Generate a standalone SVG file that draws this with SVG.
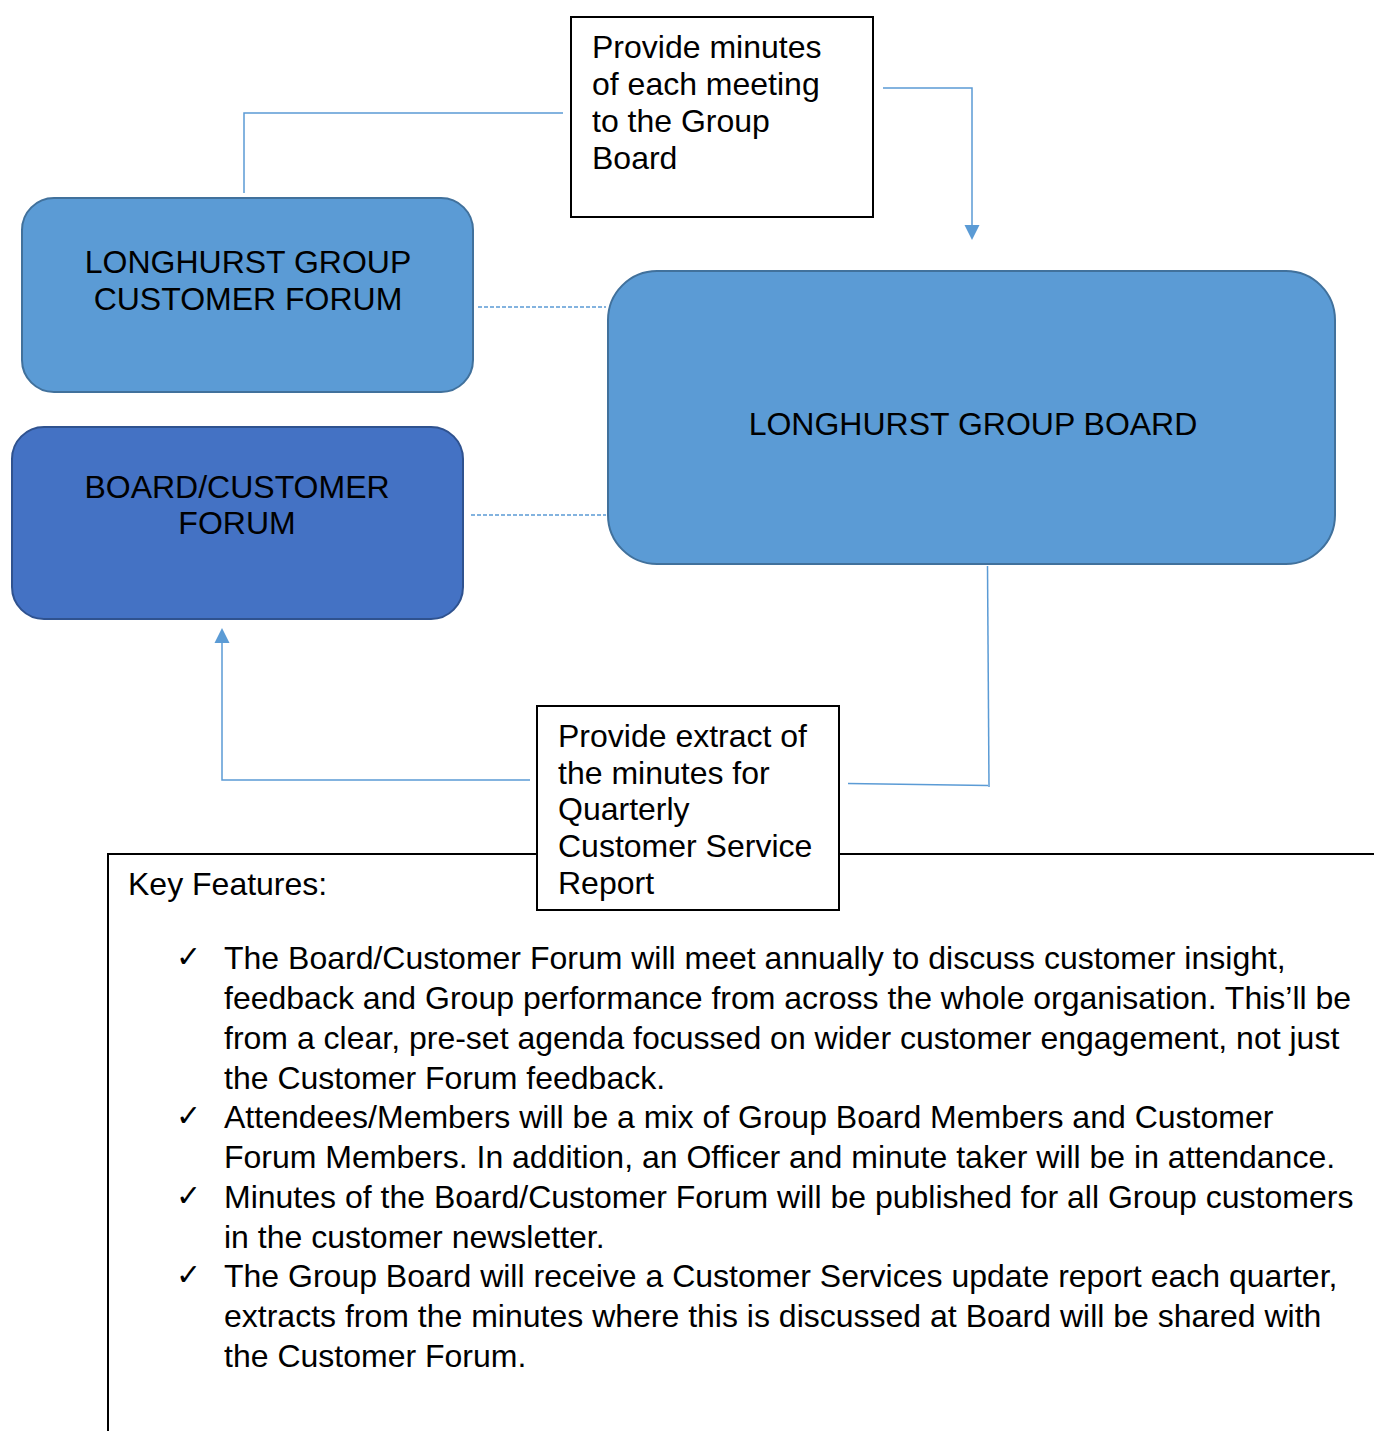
<svg xmlns="http://www.w3.org/2000/svg" width="1374" height="1431" viewBox="0 0 1374 1431">
<style>
text{font-family:"Liberation Sans",Arial,sans-serif;font-size:32px;fill:#000}
.c{text-anchor:middle}
.box{fill:#fff;stroke:#000;stroke-width:2}
.lt{fill:#5B9BD5;stroke:#41719C;stroke-width:2}
.dk{fill:#4472C4;stroke:#2F528F;stroke-width:2}
.ln{fill:none;stroke:#5B9BD5;stroke-width:1.5}
.ds{fill:none;stroke:#5B9BD5;stroke-width:1.5;stroke-dasharray:4 2}
.chk{font-family:"DejaVu Sans",sans-serif;font-size:30px}
</style>
<defs>
<marker id="arr" markerWidth="10" markerHeight="10" refX="10" refY="5" orient="auto" markerUnits="userSpaceOnUse" viewBox="0 0 10 10">
<path d="M0,0 L10,5 L0,10 Z" fill="#5B9BD5"/>
</marker>
</defs>
<g id="connectors">
<polyline class="ln" points="563,113 244,113 244,193"/>
<polyline class="ln" points="883,88 972,88 972,225"/>
<path d="M964.5,225 L979.5,225 L972,240 Z" fill="#5B9BD5"/>
<line class="ds" x1="478" y1="307" x2="606" y2="307"/>
<line class="ds" x1="471" y1="515" x2="606" y2="515"/>
<polyline class="ln" points="987.5,566 989,787"/>
<polyline class="ln" points="848,783.5 988,785.5"/>
<polyline class="ln" points="530,780 222,780 222,643"/>
<path d="M214.5,643 L229.5,643 L222,628 Z" fill="#5B9BD5"/>
</g>
<g id="key-features">
<polyline fill="none" stroke="#000" stroke-width="2" points="537,854 108,854 108,1431"/>
<line stroke="#000" stroke-width="2" x1="839" y1="854" x2="1374" y2="854"/>
<text x="128" y="895">Key Features:</text>
<text class="chk" x="176" y="967">✓</text>
<text x="224" y="969">The Board/Customer Forum will meet annually to discuss customer insight,</text>
<text x="224" y="1009">feedback and Group performance from across the whole organisation. This’ll be</text>
<text x="224" y="1049">from a clear, pre-set agenda focussed on wider customer engagement, not just</text>
<text x="224" y="1089">the Customer Forum feedback.</text>
<text class="chk" x="176" y="1126">✓</text>
<text x="224" y="1128">Attendees/Members will be a mix of Group Board Members and Customer</text>
<text x="224" y="1168">Forum Members. In addition, an Officer and minute taker will be in attendance.</text>
<text class="chk" x="176" y="1206">✓</text>
<text x="224" y="1208">Minutes of the Board/Customer Forum will be published for all Group customers</text>
<text x="224" y="1248">in the customer newsletter.</text>
<text class="chk" x="176" y="1285">✓</text>
<text x="224" y="1287">The Group Board will receive a Customer Services update report each quarter,</text>
<text x="224" y="1327">extracts from the minutes where this is discussed at Board will be shared with</text>
<text x="224" y="1367">the Customer Forum.</text>
</g>
<g id="minutes-box">
<rect class="box" x="571" y="17" width="302" height="200"/>
<text x="592" y="58">Provide minutes</text>
<text x="592" y="95">of each meeting</text>
<text x="592" y="132">to the Group</text>
<text x="592" y="169">Board</text>
</g>
<g id="customer-forum">
<rect class="lt" x="22" y="198" width="451" height="194" rx="32" ry="32"/>
<text class="c" x="248" y="273">LONGHURST GROUP</text>
<text class="c" x="248" y="310">CUSTOMER FORUM</text>
</g>
<g id="board-customer-forum">
<rect class="dk" x="12" y="427" width="451" height="192" rx="32" ry="32"/>
<text class="c" x="237" y="498">BOARD/CUSTOMER</text>
<text class="c" x="237" y="534">FORUM</text>
</g>
<g id="group-board">
<rect class="lt" x="608" y="271" width="727" height="293" rx="49" ry="49"/>
<text class="c" x="973" y="435">LONGHURST GROUP BOARD</text>
</g>
<g id="extract-box">
<rect class="box" x="537" y="706" width="302" height="204"/>
<text x="558" y="747">Provide extract of</text>
<text x="558" y="784">the minutes for</text>
<text x="558" y="820">Quarterly</text>
<text x="558" y="857">Customer Service</text>
<text x="558" y="894">Report</text>
</g>
</svg>
